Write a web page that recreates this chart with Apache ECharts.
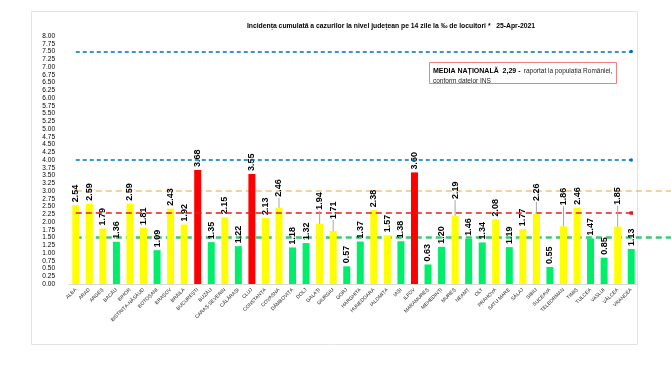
<!DOCTYPE html>
<html>
<head>
<meta charset="utf-8">
<script src="https://cdn.jsdelivr.net/npm/echarts@6/dist/echarts.min.js"></script>
<style>html,body{margin:0;padding:0;background:#fff}#c{width:671px;height:380px}</style>
</head>
<body>
<div id="c"></div>
<script>
const categories = ["ALBA","ARAD","ARGEȘ","BACĂU","BIHOR","BISTRIȚA-NĂSĂUD","BOTOȘANI","BRAȘOV","BRĂILA","BUCUREȘTI","BUZĂU","CARAȘ-SEVERIN","CĂLĂRAȘI","CLUJ","CONSTANȚA","COVASNA","DÂMBOVIȚA","DOLJ","GALAȚI","GIURGIU","GORJ","HARGHITA","HUNEDOARA","IALOMIȚA","IAȘI","ILFOV","MARAMUREȘ","MEHEDINȚI","MUREȘ","NEAMȚ","OLT","PRAHOVA","SATU MARE","SĂLAJ","SIBIU","SUCEAVA","TELEORMAN","TIMIȘ","TULCEA","VASLUI","VÂLCEA","VRANCEA"];
const values = [2.54,2.59,1.79,1.36,2.59,1.81,1.09,2.43,1.92,3.68,1.35,2.15,1.22,3.55,2.13,2.46,1.18,1.32,1.94,1.71,0.57,1.37,2.38,1.57,1.38,3.60,0.63,1.20,2.19,1.46,1.34,2.08,1.19,1.77,2.26,0.55,1.86,2.46,1.47,0.85,1.85,1.13];
const blueLevels = [7.5, 4.0];
const orangeLevel = 3.0;
const nationalAverage = 2.29;
const greenLevel = 1.5;
const titleText = "Incidența cumulată a cazurilor la nivel județean pe 14 zile la ‰ de locuitori *   25-Apr-2021";

// label lift (px) for labels moved away from bars in the original (styling only)
const labelLift = {"COVASNA":8,"GALAȚI":11,"GIURGIU":9,"MUREȘ":14,"SIBIU":10,"TELEORMAN":18,"VÂLCEA":19};

function barColor(v){ return v > 3 ? '#FF0000' : (v >= 1.5 ? '#FFFF00' : '#00EE6A'); }

const chart = echarts.init(document.getElementById('c'), null, {renderer:'canvas'});
const first = categories[0], last = categories[categories.length-1];
const dashSeg = (y, color, width, dash, sym) => [
  {xAxis:first, yAxis:y, symbol:'none', lineStyle:{color, width, type:dash}},
  {xAxis:last, yAxis:y, symbol:sym, symbolSize:3.5, lineStyle:{color, width, type:dash}}
];
const option = {
  animation:false,
  backgroundColor:'#fff',
  title:{text:titleText, left:386, top:18, textAlign:'center',
    textStyle:{fontSize:6.8, fontWeight:'bold', color:'#000', fontFamily:'Liberation Sans'}},
  grid:{left:69, right:33, top:36, bottom:96},
  xAxis:{type:'category', data:categories,
    axisLine:{lineStyle:{color:'#D9D9D9'}}, axisTick:{show:false},
    axisLabel:{interval:0, rotate:45, fontSize:5, color:'#222', margin:5, fontFamily:'Liberation Sans'}},
  yAxis:{type:'value', min:0, max:8, interval:0.25,
    splitLine:{show:false}, axisLine:{show:false}, axisTick:{show:false},
    axisLabel:{formatter:v=>v.toFixed(2), fontSize:6.5, color:'#000', margin:14, fontFamily:'Liberation Sans'}},
  series:[{
    type:'bar', barWidth:7,
    data:values.map((v,i)=>{
      const lift = labelLift[categories[i]] || 0;
      return {value:v, itemStyle:{color:barColor(v)}, label:{distance:3 + lift}};
    }),
    label:{show:true, position:'top', rotate:90, align:'left', verticalAlign:'middle', distance:3,
      fontSize:9, fontWeight:'bold', color:'#000', fontFamily:'Liberation Sans',
      formatter:p=>p.value.toFixed(2)},
    markLine:{silent:true, label:{show:false}, symbol:'none',
      data:[
        dashSeg(blueLevels[0], '#0070C0', 1.5, [4,3], 'circle'),
        dashSeg(blueLevels[1], '#0070C0', 1.5, [4,3], 'circle'),
        dashSeg(nationalAverage, '#E41A1C', 1.5, [6,4], 'rect')
      ]}
  },{
    type:'custom', silent:true, z:5,
    data:values.map((v,i)=>[i, v]),
    renderItem:function(params, api){
      const lift = labelLift[categories[api.value(0)]];
      if(!lift) return null;
      const p = api.coord([api.value(0), api.value(1)]);
      return {type:'line', shape:{x1:p[0], y1:p[1], x2:p[0], y2:p[1]-lift-2}, style:{stroke:'#A6A6A6', lineWidth:1}};
    }
  }]
};
chart.setOption(option);

const p0 = chart.convertToPixel({seriesIndex:0}, [0, orangeLevel]);
const p1 = chart.convertToPixel({seriesIndex:0}, [0, greenLevel]);
chart.setOption({graphic:[
  {type:'rect', shape:{x:31.5, y:11.5, width:606, height:333}, style:{fill:null, stroke:'#E3E3E3', lineWidth:1}, z:-1},
  {type:'line', shape:{x1:p0[0], y1:p0[1], x2:671, y2:p0[1]}, style:{stroke:'#E8A33A', lineWidth:1, lineDash:[6,4]}, z:1},
  {type:'line', shape:{x1:p1[0], y1:p1[1], x2:671, y2:p1[1]}, style:{stroke:'#3CC87A', lineWidth:2.5, lineDash:[6,4]}, z:1},
  {type:'rect', shape:{x:429.5, y:62.5, width:187, height:21}, style:{fill:'#fff', stroke:'#F08080', lineWidth:1}, z:10},
  {type:'text', left:433, top:65, z:11, style:{
    text:'{b|MEDIA NAȚIONALĂ  2,29 -} {n|raportat la populația României,}\n{n|conform datelor INS}',
    rich:{b:{fontSize:7, fontWeight:'bold', fill:'#000', fontFamily:'Liberation Sans', lineHeight:9},
          n:{fontSize:6.5, fill:'#222', fontFamily:'Liberation Sans', lineHeight:9}}}}
]});
</script>
</body>
</html>
